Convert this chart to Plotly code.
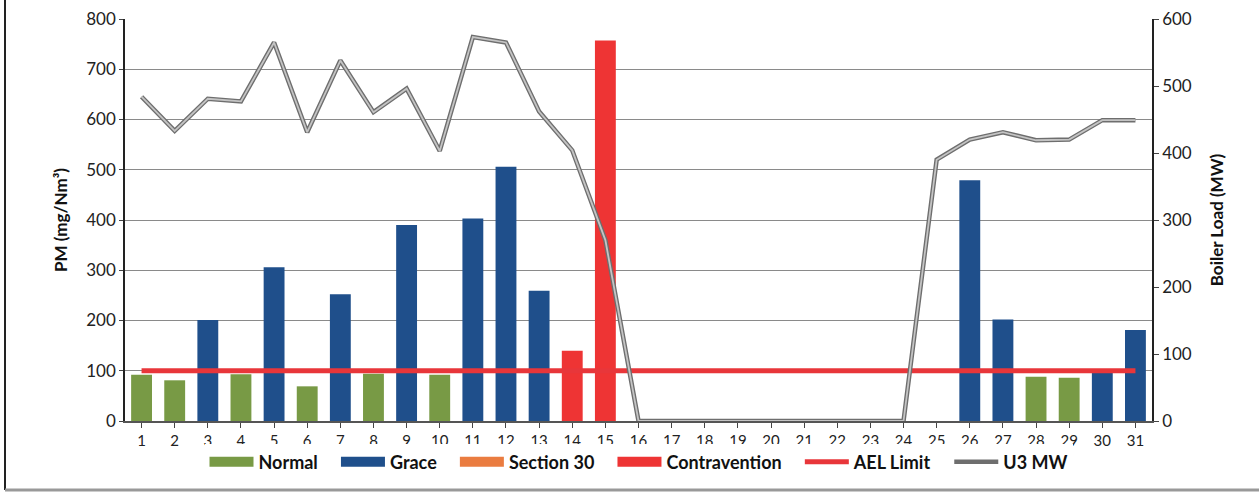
import plotly.graph_objs as go

days = list(range(1, 32))
day_labels = [str(d) for d in days]

# PM per day, None = unit off / no data
pm_values = [92, 81, 201, 93, 306, 69, 252, 94, 390, 92,
             403, 506, 259, 140, 757, None, None, None, None, None,
             None, None, None, None, None, 479, 202, 88, 86, 103,
             181]
# N = Normal, G = Grace, S = Section 30, C = Contravention
status = ['N', 'N', 'G', 'N', 'G', 'N', 'G', 'N', 'G', 'N',
          'G', 'G', 'G', 'C', 'C', '', '', '', '', '',
          '', '', '', '', '', 'G', 'G', 'N', 'N', 'G',
          'G']
ael_limit = [100, 100, 100, 100, 100, 100, 100, 100, 100, 100,
             100, 100, 100, 100, 100, 100, 100, 100, 100, 100,
             100, 100, 100, 100, 100, 100, 100, 100, 100, 100,
             100]
u3_mw = [484, 433, 481, 477, 565, 431, 538, 461, 496, 403,
         573, 565, 462, 404, 270, 0, 0, 0, 0, 0,
         0, 0, 0, 0, 390, 420, 431, 419, 420, 449,
         449]

categories = [('Normal', 'N', '#789A45'),
              ('Grace', 'G', '#1F4F8B'),
              ('Section 30', 'S', '#EA7C40'),
              ('Contravention', 'C', '#EE3434')]

FONT = 'Lato'
PAD = '\u00a0' * 3  # extra room between legend entries

# plot area in pixels, used for the frame lines outside the plot
W, H = 1259, 495
ML, MR, MT, MB = 125, 107, 19, 74
pw = W - ML - MR
ph = H - MT - MB


def px_x(px):
    return (px - ML) / pw


def px_y(py):
    return (H - MB - py) / ph


fig = go.Figure()

# legend-only entries so the swatches come out as wide blocks like Excel's
for name, code, colour in categories:
    fig.add_trace(go.Scatter(x=[None], y=[None], mode='lines', name=name + PAD,
                             line=dict(color=colour, width=10), hoverinfo='skip'))

for name, code, colour in categories:
    fig.add_trace(go.Bar(x=days,
                         y=[v if s == code else None for v, s in zip(pm_values, status)],
                         name=name, showlegend=False,
                         marker=dict(color=colour, line=dict(width=0)),
                         width=0.63))

fig.add_trace(go.Scatter(x=days, y=ael_limit, mode='lines', name='AEL Limit' + PAD,
                         line=dict(color='#E8363A', width=5)))

fig.add_trace(go.Scatter(x=days, y=u3_mw, mode='lines', name='U3 MW',
                         line=dict(color='#6E6E6E', width=4.5), yaxis='y2'))
fig.add_trace(go.Scatter(x=days, y=u3_mw, mode='lines', name='U3 MW',
                         line=dict(color='#C4C4C4', width=1.8), yaxis='y2',
                         showlegend=False, hoverinfo='skip'))

fig.update_layout(
    width=W, height=H,
    margin=dict(l=ML, r=MR, t=MT, b=MB, autoexpand=False),
    paper_bgcolor='white', plot_bgcolor='white',
    barmode='overlay',
    font=dict(family=FONT, color='#1a1a1a'),
    showlegend=True,
    legend=dict(orientation='h', x=0.5, xanchor='center', y=px_y(462), yanchor='middle',
                font=dict(family=FONT, size=18, color='#111111', weight='bold'),
                itemwidth=44, traceorder='normal'),
    xaxis=dict(range=[0.5, 31.5], tickmode='array', tickvals=days, ticktext=day_labels,
               showgrid=False, showline=True, linecolor='#555555', linewidth=1.5,
               ticks='outside', ticklen=5, tickcolor='#444444',
               tickfont=dict(size=15, color='#222222'), zeroline=False),
    yaxis=dict(range=[0, 800], dtick=100, showgrid=True, gridcolor='#8a8a8a', gridwidth=1,
               showline=True, linecolor='#222222', linewidth=1.5,
               ticks='outside', ticklen=4, tickcolor='#444444',
               tickfont=dict(size=17, color='#222222'), zeroline=False,
               title=dict(text='PM (mg/Nm³)', standoff=14,
                          font=dict(size=17, color='#111111', weight='bold'))),
    yaxis2=dict(range=[0, 600], dtick=100, overlaying='y', side='right', showgrid=False,
                showline=True, linecolor='#222222', linewidth=1.5,
                ticks='outside', ticklen=5, tickcolor='#444444',
                tickfont=dict(size=17, color='#222222'), zeroline=False,
                title=dict(text='Boiler Load (MW)', standoff=20,
                           font=dict(size=17, color='#111111', weight='bold'))),
    shapes=[
        dict(type='line', xref='paper', yref='paper',
             x0=px_x(5), x1=px_x(5), y0=px_y(0), y1=px_y(490),
             line=dict(color='#222222', width=2)),
        dict(type='line', xref='paper', yref='paper',
             x0=px_x(5), x1=px_x(1259), y0=px_y(490), y1=px_y(490),
             line=dict(color='#999999', width=3)),
    ],
)

# drop the default page margin so the figure sits at the window's corner
fig.write_html("out.html", config={'displayModeBar': False},
               post_script="document.body.style.margin='0';")
